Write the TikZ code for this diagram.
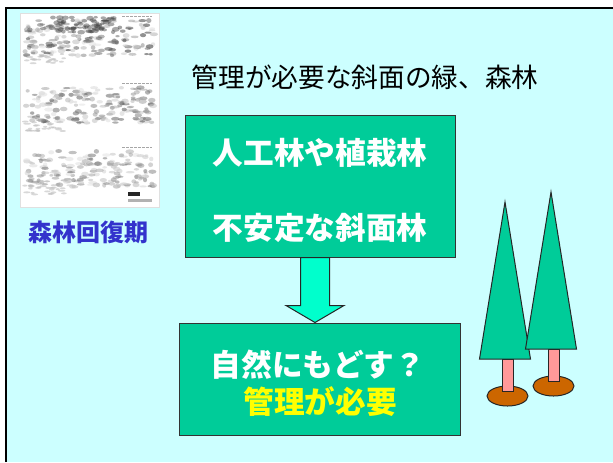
\documentclass[tikz,border=0pt]{standalone}
\usepackage{fontspec}
\newfontfamily\jp{Noto Sans CJK JP}
\usetikzlibrary{calc}

\definecolor{bgcyan}{RGB}{204,255,255}
\definecolor{boxgreen}{RGB}{0,204,153}
\definecolor{arrowaqua}{RGB}{0,255,204}
\definecolor{trunkpink}{RGB}{255,153,153}
\definecolor{potbrown}{RGB}{204,102,0}
\definecolor{labelblue}{RGB}{51,51,204}
\definecolor{noteyellow}{RGB}{255,255,0}

\tikzset{every picture/.style={line width=0.75pt}}
\tikzset{
	greenbox/.style={draw=black!80, fill=boxgreen, inner sep=0pt},
	boxtext/.style={font=\jp\bfseries\fontsize{23}{28}\selectfont, text=white, inner sep=0.75pt},
	titletext/.style={font=\jp\fontsize{20}{24}\selectfont, inner sep=0.75pt},
	tree/.style={draw=black!85, line width=0.75pt},
}

\begin{document}
\begin{tikzpicture}[x=0.75pt,y=0.75pt,yscale=-1,xscale=1]
	\useasboundingbox (0,0) rectangle (613,462);
	
	%Shape: Background
	\fill[white] (0,0) rectangle (613,462);
	\fill[bgcyan] (6,8) rectangle (613,462);
	\draw[line width=1.5pt] (6,462) -- (6,8) -- (613,8);
	
	%Shape: Scanned page
	\fill[white] (20,13) rectangle (159,207);
	\draw[black!12] (20,13) rectangle (159,207);
	\pgfmathsetseed{11}
	\foreach \yb/\dk in {36/70, 103/55, 167/45} {
		\foreach \i in {1,...,170} {
			\pgfmathsetmacro\px{25+129*rnd}
			\pgfmathsetmacro\py{\yb-16+36*rnd}
			\pgfmathsetmacro\gv{10+\dk*rnd}
			\fill[black!\gv, opacity=0.55] (\px,\py) ellipse [x radius=2+2.5*rnd, y radius=1+1.5*rnd];
		}
		\foreach \i in {1,...,25} {
			\pgfmathsetmacro\px{24+40*rnd}
			\pgfmathsetmacro\py{\yb+18+10*rnd}
			\fill[black!25, opacity=0.6] (\px,\py) ellipse [x radius=2+2*rnd, y radius=1];
		}
		\draw[black!35, dash pattern=on 2pt off 1pt] (122,\yb-20) -- (152,\yb-20);
	}
	% darker cluster along the upper band
	\foreach \i in {1,...,60} {
		\pgfmathsetmacro\px{50+70*rnd}
		\pgfmathsetmacro\py{17+16*rnd}
		\fill[black!75, opacity=0.45] (\px,\py) ellipse [x radius=2+2*rnd, y radius=1+1.5*rnd];
	}
	\fill[black!85] (128,192) rectangle (140,196);
	\fill[black!30] (128,199) rectangle (152,202);
	
	% Text Node
	\node (period) [font=\jp\bfseries\fontsize{18}{22}\selectfont, text=labelblue, inner sep=0.75pt] at (88,232) {森林回復期};
	% Text Node
	\node (title) [titletext] at (365,77) {管理が必要な斜面の緑、森林};
	
	%Shape: Rectangle
	\node (plant) [greenbox, minimum width=202.5pt, minimum height=106.5pt] at (320,186) {};
	%Shape: Rectangle
	\node (restore) [greenbox, minimum width=210.75pt, minimum height=84pt] at (319.5,379) {};
	
	% Text Node
	\node (plantA) [boxtext] at (320,153) {人工林や植栽林};
	% Text Node
	\node (plantB) [boxtext] at (320,228) {不安定な斜面林};
	% Text Node
	\node (restoreA) [boxtext] at (318,365) {自然にもどす？};
	% Text Node
	\node (restoreB) [boxtext, text=noteyellow] at (320,402) {管理が必要};
	
	%Shape: Down Arrow
	\coordinate (tip) at ($(restore.north)+(-4.5,0)$);
	\draw[fill=arrowaqua, draw=black!85] ($(tip |- plant.south)+(-14.5,0)$) -- ($(tip |- plant.south)+(14.5,0)$) -- ($(tip)+(14.5,-17)$) -- ($(tip)+(29,-17)$) -- (tip) -- ($(tip)+(-29,-17)$) -- ($(tip)+(-14.5,-17)$) -- cycle;
	
	%Shape: Trees
	\foreach \ax/\ay in {505/202, 551/192} {
		\draw[tree, fill=potbrown] (\ax+2.5,\ay+194) ellipse [x radius=20.5, y radius=10];
		\draw[tree, fill=trunkpink] (\ax-3,\ay+157) rectangle (\ax+8,\ay+189);
		\draw[tree, fill=boxgreen] (\ax,\ay) -- (\ax+25.5,\ay+157) -- (\ax-25.5,\ay+157) -- cycle;
	}
	
\end{tikzpicture}
\end{document}
